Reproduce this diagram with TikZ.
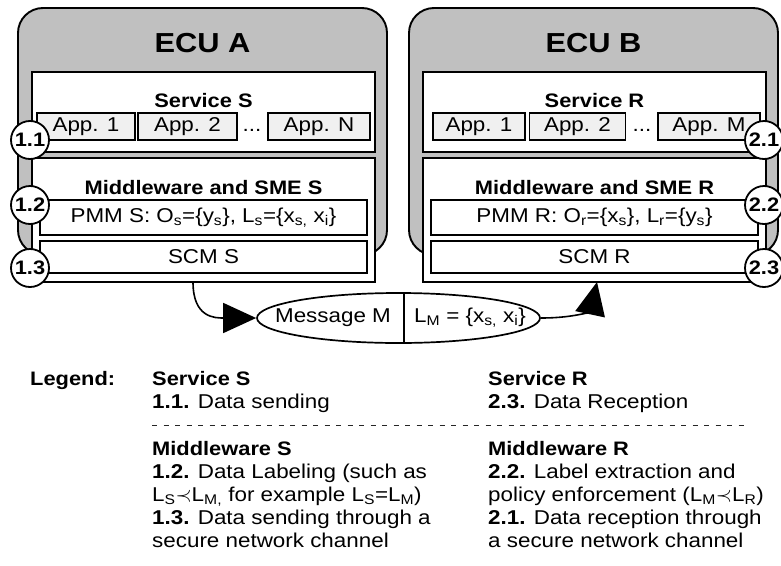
\documentclass[tikz,border=0pt]{standalone}
\usepackage{fontspec}
\setmainfont[FakeStretch=1.12]{Liberation Sans}
\usetikzlibrary{arrows.meta,calc,shapes.geometric}
\definecolor{ecugray}{HTML}{C0C0C0}
\definecolor{appgray}{HTML}{F0F0F0}
\newcommand\myfs{\fontsize{20}{24}\selectfont}
\newcommand\mybf{\fontsize{19.5}{24}\selectfont\bfseries}
\newcommand\mytitle{\fontsize{27.5}{32}\selectfont\bfseries}
\begin{document}
\begin{tikzpicture}[x=1pt,y=-1pt,
  ecu/.style={draw, line width=1.9pt, fill=ecugray, rounded corners=25pt, inner sep=0pt},
  wbox/.style={draw, line width=1.7pt, fill=white, inner sep=0pt, font=\myfs},
  appbox/.style={draw, line width=1.7pt, fill=appgray, inner sep=0pt, minimum height=27pt, font=\myfs},
  num/.style={circle, draw, line width=1.8pt, fill=white, minimum size=38pt, inner sep=0pt, font=\mybf},
  txt/.style={inner sep=0pt, font=\myfs},
  btxt/.style={inner sep=0pt, font=\mybf},
  ttl/.style={inner sep=0pt, font=\mytitle},
  conn/.style={line width=1.6pt, -{Triangle[length=33pt,width=30pt]}}]
\useasboundingbox (0,0) rectangle (781,565);

% ECU A
\node[ecu, minimum width=369pt, minimum height=247pt] (ecuA) at (202.5,131.5) {};
\node[ttl, anchor=base] (tA) at (202.5,52) {ECU A};
\node[wbox, minimum width=343pt, minimum height=80pt] (svcS) at (203.5,112) {};
\node[wbox, minimum width=343pt, minimum height=124pt] (mwS) at (203.5,220) {};
\node[btxt, anchor=base] (svcSt) at (203.5,107) {Service S};
\node[btxt, anchor=base] (mwSt) at (203.5,194) {Middleware and SME S};
\node[appbox, minimum width=98pt] (a1S) at (86,126.5) {App. 1};
\node[appbox, minimum width=99pt] (a2S) at (187.5,126.5) {App. 2};
\node[txt, anchor=base] (dS) at (252,131) {...};
\node[appbox, minimum width=102pt] (aNS) at (319,126.5) {App. N};
\node[wbox, minimum width=327pt, minimum height=35pt] (pmmS) at (203.5,217.5)
  {PMM S: O\textsubscript{s}=\{y\textsubscript{s}\}, L\textsubscript{s}=\{x\textsubscript{s,} x\textsubscript{i}\}};
\node[wbox, minimum width=327pt, minimum height=32pt] (scmS) at (203.5,257) {SCM S};
\node[num] (c11) at (30,140) {1.1};
\node[num] (c12) at (30,205) {1.2};
\node[num] (c13) at (30,268) {1.3};

% ECU B
\node[ecu, minimum width=369pt, minimum height=247pt] (ecuB) at (593.5,131.5) {};
\node[ttl, anchor=base] (tB) at (593.5,52) {ECU B};
\node[wbox, minimum width=343pt, minimum height=80pt] (svcR) at (594.5,112) {};
\node[wbox, minimum width=343pt, minimum height=124pt] (mwR) at (594.5,220) {};
\node[btxt, anchor=base] (svcRt) at (594.5,107) {Service R};
\node[btxt, anchor=base] (mwRt) at (594.5,194) {Middleware and SME R};
\node[appbox, minimum width=92pt] (a1R) at (479,126.5) {App. 1};
\node[appbox, minimum width=96pt] (a2R) at (577.5,126.5) {App. 2};
\node[txt, anchor=base] (dR) at (642,131) {...};
\node[appbox, minimum width=102pt] (aMR) at (709,126.5) {App. M};
\node[wbox, minimum width=327pt, minimum height=35pt] (pmmR) at (594.5,217.5)
  {PMM R: O\textsubscript{r}=\{x\textsubscript{s}\}, L\textsubscript{r}=\{y\textsubscript{s}\}};
\node[wbox, minimum width=327pt, minimum height=32pt] (scmR) at (594.5,257) {SCM R};
\node[num] (c21) at (764,140) {2.1};
\node[num] (c22) at (764,205) {2.2};
\node[num] (c23) at (764,268) {2.3};

% Message
\node[draw, ellipse, line width=1.7pt, fill=white, minimum width=283pt, minimum height=50pt, inner sep=0pt] (msg) at (398.5,318) {};
\draw[line width=1.7pt] ($(msg.north)+(5.5,0)$) -- ($(msg.south)+(5.5,0)$);
\node[txt] (msgt) at (333,318) {Message M};
\node[txt] (lm) at (470,318) {L\textsubscript{M} = \{x\textsubscript{s,} x\textsubscript{i}\}};

\coordinate (aS) at (193,282);
\coordinate (aR) at (597,282);
\draw[conn] (aS) .. controls (193,318) and (215,318) .. (msg.west);
\draw[conn] (msg.east) .. controls (578,318) and (591,310) .. (aR);

% Legend
\node[btxt, anchor=base west] (lg) at (30,385) {Legend:};
\node[btxt, anchor=base west] (lSs) at (152,385) {Service S};
\node[txt, anchor=base west] (l11) at (152,408) {\textbf{1.1.} Data sending};
\node[btxt, anchor=base west] (lRs) at (488,385) {Service R};
\node[txt, anchor=base west] (l23) at (488,408) {\textbf{2.3.} Data Reception};
\coordinate (dl1) at (152,425);
\coordinate (dl2) at (748,425);
\draw[line width=1pt, dash pattern=on 5pt off 6.5pt, black!85] (dl1) -- (dl2);
\node[btxt, anchor=base west] (lMs) at (152,455) {Middleware S};
\node[txt, anchor=base west] (l12a) at (152,478) {\textbf{1.2.} Data Labeling (such as};
\node[txt, anchor=base west] (l12b) at (152,501) {L\textsubscript{S}$\prec$L\textsubscript{M,} for example L\textsubscript{S}=L\textsubscript{M})};
\node[txt, anchor=base west] (l13a) at (152,524) {\textbf{1.3.} Data sending through a};
\node[txt, anchor=base west] (l13b) at (152,547) {secure network channel};
\node[btxt, anchor=base west] (lMr) at (488,455) {Middleware R};
\node[txt, anchor=base west] (l22a) at (488,478) {\textbf{2.2.} Label extraction and};
\node[txt, anchor=base west] (l22b) at (488,501) {policy enforcement (L\textsubscript{M}$\prec$L\textsubscript{R})};
\node[txt, anchor=base west] (l21a) at (488,524) {\textbf{2.1.} Data reception through};
\node[txt, anchor=base west] (l21b) at (488,547) {a secure network channel};
\end{tikzpicture}
\end{document}
